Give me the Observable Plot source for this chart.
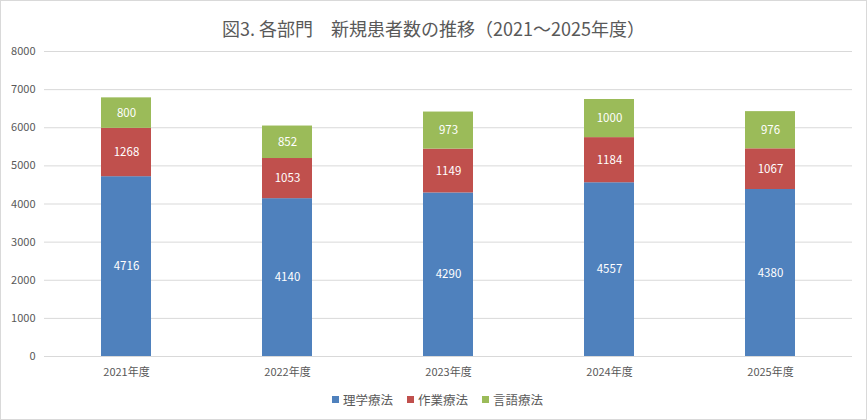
<!DOCTYPE html>
<html>
<head>
<meta charset="utf-8">
<script src="https://cdn.jsdelivr.net/npm/d3@7"></script>
<script src="https://cdn.jsdelivr.net/npm/@observablehq/plot@0.6"></script>
<style>
  body { margin: 0; background: #fff; }
  #chart { width: 865px; height: 418px; border: 1px solid #d9d9d9; position: relative; font-family: "Noto Sans CJK JP", "Noto Sans", sans-serif; color: #595959; overflow: hidden; }
  #title { height: 40px; box-sizing: border-box; padding-top: 17px; text-align: center; font-size: 18px; line-height: 20px; color: #595959; }
  #legend { display: flex; justify-content: center; align-items: center; gap: 14px; font-size: 12.5px; color: #595959; height: 26px; margin-left: 8px; }
  #legend span.sw { display: inline-block; width: 7px; height: 7px; margin-right: 4px; }
  #legend div { display: flex; align-items: center; }
</style>
</head>
<body>
<div id="chart">
  <div id="title">図3. 各部門　新規患者数の推移（2021～2025年度）</div>
  <div id="plot"></div>
  <div id="legend"></div>
</div>
<script>
const years = ["2021年度", "2022年度", "2023年度", "2024年度", "2025年度"];
const seriesNames = ["理学療法", "作業療法", "言語療法"];
const colors = ["#4f81bd", "#c0504d", "#9bbb59"];
const pt = [4716, 4140, 4290, 4557, 4380];
const ot = [1268, 1053, 1149, 1184, 1067];
const st = [800, 852, 973, 1000, 976];
const yTicks = [0, 1000, 2000, 3000, 4000, 5000, 6000, 7000, 8000];

const seriesValues = [pt, ot, st];
const data = [];
seriesNames.forEach((s, i) => {
  years.forEach((y, j) => data.push({year: y, series: s, value: seriesValues[i][j]}));
});

const plot = Plot.plot({
  width: 865,
  height: 345,
  marginTop: 10,
  marginBottom: 30,
  marginLeft: 43,
  marginRight: 14,
  style: { fontFamily: "'Noto Sans CJK JP', 'Noto Sans', sans-serif", fontSize: "11px", color: "#595959", background: "transparent" },
  x: { domain: years, paddingInner: 0.69, paddingOuter: 0.345, label: null, tickSize: 0, tickPadding: 12 },
  y: { domain: [0, 8000], ticks: yTicks, label: null, tickSize: 0, tickPadding: 9, tickFormat: d => String(d) },
  color: { domain: seriesNames, range: colors },
  marks: [
    Plot.ruleY(yTicks, { stroke: "#d9d9d9", strokeWidth: 1 }),
    Plot.barY(data, Plot.stackY({ x: "year", y: "value", z: "series", fill: "series", order: null })),
    Plot.text(data, Plot.stackY({ x: "year", y: "value", z: "series", order: null, text: d => String(d.value), fill: "white", fontSize: 11.5 }))
  ]
});
document.getElementById("plot").appendChild(plot);

const legend = document.getElementById("legend");
seriesNames.forEach((s, i) => {
  const item = document.createElement("div");
  const sw = document.createElement("span");
  sw.className = "sw";
  sw.style.background = colors[i];
  item.appendChild(sw);
  item.appendChild(document.createTextNode(s));
  legend.appendChild(item);
});
</script>
</body>
</html>
